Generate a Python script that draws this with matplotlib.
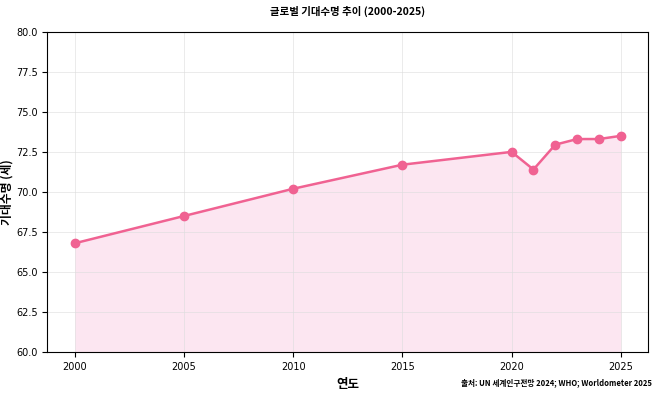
import matplotlib
matplotlib.use('Agg')
import matplotlib.pyplot as plt

plt.rcParams['font.family'] = ['DejaVu Sans', 'Noto Sans CJK KR']

# 연도별 글로벌 기대수명
years = [2000, 2005, 2010, 2015, 2020, 2021, 2022, 2023, 2024, 2025]
life_exp = [66.8, 68.5, 70.2, 71.7, 72.5, 71.4, 72.95, 73.3, 73.3, 73.5]

kr = ['Noto Sans CJK KR', 'DejaVu Sans']

fig, ax = plt.subplots(figsize=(6.58, 3.95), dpi=100)
fig.subplots_adjust(left=0.072, right=0.985, top=0.92, bottom=0.108)

ax.fill_between(years, life_exp, 60, color='#fbd3e6', alpha=0.55, linewidth=0)
ax.plot(years, life_exp, color='#f06292', linewidth=1.8, marker='o', markersize=6)

ax.set_ylim(60, 80)
ax.set_yticks([60, 62.5, 65, 67.5, 70, 72.5, 75, 77.5, 80])
ax.set_xticks([2000, 2005, 2010, 2015, 2020, 2025])
ax.tick_params(labelsize=7)
ax.grid(True, color='#dddddd', linewidth=0.6, alpha=0.7)

ax.set_title('글로벌 기대수명 추이 (2000-2025)', fontsize=7.5, fontweight='bold', family=kr, pad=12)
ax.set_xlabel('연도', fontsize=9, fontweight='bold', family=kr)
ax.set_ylabel('기대수명 (세)', fontsize=8.5, fontweight='bold', family=kr, labelpad=2)

fig.text(0.99, 0.02, '출처: UN 세계인구전망 2024; WHO; Worldometer 2025', ha='right', va='bottom',
         fontsize=5.5, fontweight='bold', family=kr)

fig.savefig('out.png', dpi=100)
